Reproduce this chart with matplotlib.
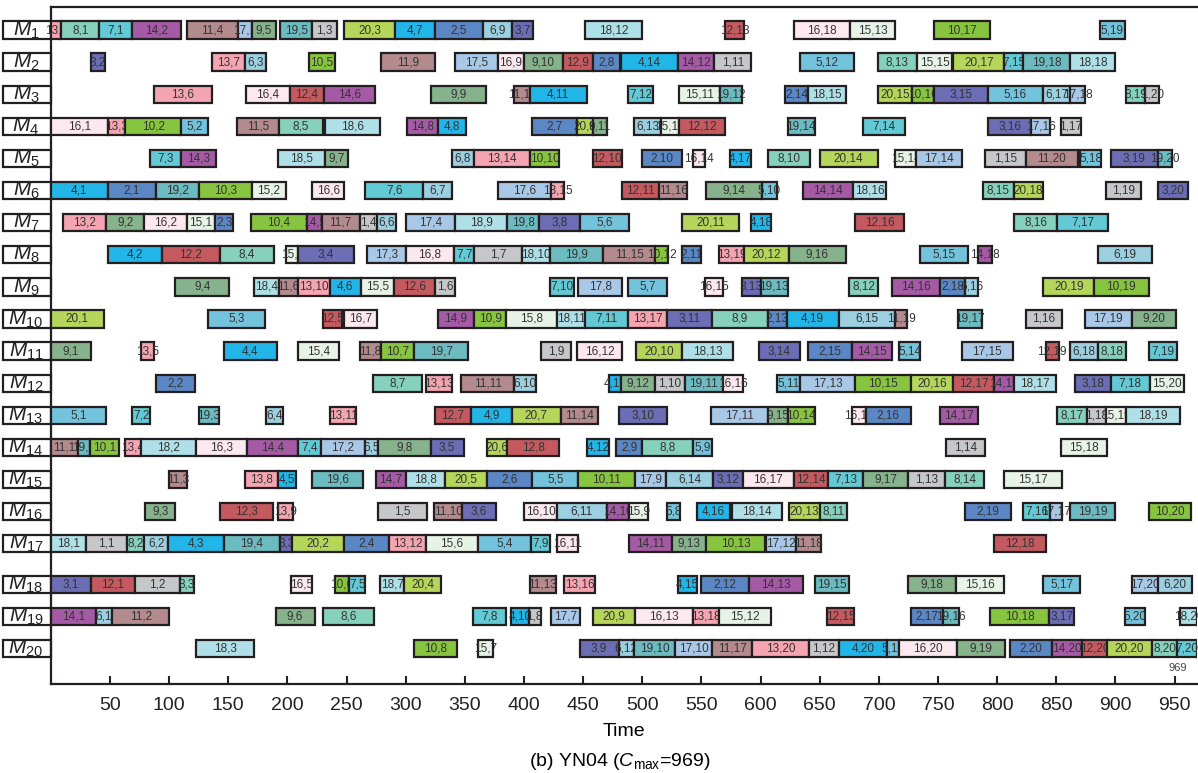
import matplotlib.pyplot as plt
from matplotlib.patches import Rectangle

plt.rcParams['font.family'] = ['Liberation Sans', 'DejaVu Sans']
plt.rcParams['mathtext.fontset'] = 'custom'
plt.rcParams['mathtext.rm'] = 'Liberation Sans'
plt.rcParams['mathtext.it'] = 'Liberation Sans:italic'

# (job, operation, start, end) per machine
m1 = [(13, 1, 0, 9), (8, 1, 9, 41), (7, 1, 41, 69), (14, 2, 69, 110), (11, 4, 115, 158), (17, 1, 158, 170),
      (9, 5, 170, 190), (19, 5, 194, 221), (1, 3, 221, 242), (20, 3, 248, 291), (4, 7, 291, 325), (2, 5, 325, 365),
      (6, 9, 365, 390), (3, 7, 390, 408), (18, 12, 452, 500), (12, 13, 570, 586), (16, 18, 628, 676),
      (15, 13, 676, 714), (10, 17, 747, 794), (5, 19, 887, 908)]
m2 = [(3, 2, 34, 46), (13, 7, 136, 164), (6, 3, 164, 182), (10, 5, 218, 240), (11, 9, 279, 325), (17, 5, 342, 378),
      (16, 9, 378, 400), (9, 10, 400, 433), (12, 9, 433, 458), (2, 8, 458, 481), (4, 14, 482, 530),
      (14, 12, 530, 561), (1, 11, 561, 592), (5, 12, 633, 679), (8, 13, 699, 732), (15, 15, 732, 762),
      (20, 17, 763, 806), (7, 15, 806, 822), (19, 18, 822, 862), (18, 18, 862, 900)]
m3 = [(13, 6, 87, 136), (16, 4, 165, 202), (12, 4, 202, 231), (14, 6, 231, 274), (9, 9, 321, 368),
      (11, 12, 392, 405), (4, 11, 405, 453), (7, 12, 488, 509), (15, 11, 531, 566), (19, 12, 566, 584),
      (2, 14, 621, 640), (18, 15, 640, 672), (20, 15, 699, 728), (10, 16, 728, 747), (3, 15, 747, 792),
      (5, 16, 792, 839), (6, 17, 839, 862), (17, 18, 862, 874), (8, 19, 909, 925), (1, 20, 925, 937)]
m4 = [(16, 1, 0, 48), (13, 3, 48, 63), (10, 2, 63, 110), (5, 2, 110, 133), (11, 5, 157, 193), (8, 5, 193, 230),
      (18, 6, 232, 278), (14, 8, 301, 327), (4, 8, 327, 351), (2, 7, 407, 445), (20, 8, 445, 458),
      (9, 11, 458, 470), (6, 13, 493, 516), (15, 10, 516, 531), (12, 12, 531, 570), (19, 14, 623, 646),
      (7, 14, 687, 722), (3, 16, 792, 829), (17, 16, 829, 845), (1, 17, 854, 871)]
m5 = [(7, 3, 84, 110), (14, 3, 110, 140), (18, 5, 192, 232), (9, 7, 232, 251), (6, 8, 339, 358),
      (13, 14, 358, 405), (10, 10, 405, 430), (12, 10, 458, 483), (2, 10, 500, 534), (16, 14, 543, 553),
      (4, 17, 574, 592), (8, 10, 606, 642), (20, 14, 650, 699), (15, 14, 714, 731), (17, 14, 731, 770),
      (1, 15, 790, 824), (11, 20, 824, 868), (5, 18, 870, 888), (3, 19, 896, 936), (19, 20, 936, 948)]
m6 = [(4, 1, 0, 48), (2, 1, 48, 89), (19, 2, 89, 125), (10, 3, 125, 170), (15, 2, 170, 199), (16, 6, 221, 248),
      (7, 6, 266, 315), (6, 7, 315, 339), (17, 6, 378, 423), (13, 15, 423, 434), (12, 11, 483, 514),
      (11, 16, 514, 538), (9, 14, 554, 601), (5, 10, 601, 614), (14, 14, 636, 678), (18, 16, 678, 706),
      (8, 15, 788, 814), (20, 18, 814, 839), (1, 19, 892, 922), (3, 20, 936, 961)]
m7 = [(13, 2, 10, 47), (9, 2, 47, 79), (16, 2, 79, 115), (15, 1, 115, 139), (2, 3, 139, 154), (10, 4, 169, 217),
      (14, 5, 217, 229), (11, 7, 229, 261), (1, 4, 261, 276), (6, 6, 276, 292), (17, 4, 300, 342),
      (18, 9, 342, 386), (19, 8, 386, 413), (3, 8, 413, 447), (5, 6, 447, 489), (20, 11, 534, 582),
      (4, 18, 592, 609), (12, 16, 680, 721), (8, 16, 814, 851), (7, 17, 851, 894)]
m8 = [(4, 2, 48, 94), (12, 2, 94, 143), (8, 4, 143, 189), (15, 3, 199, 209), (3, 4, 209, 256), (17, 3, 267, 300),
      (16, 8, 300, 341), (7, 7, 341, 358), (1, 7, 358, 398), (18, 10, 398, 422), (19, 9, 422, 467),
      (11, 15, 467, 511), (10, 12, 511, 522), (2, 11, 534, 550), (13, 19, 565, 586), (20, 12, 586, 624),
      (9, 16, 624, 672), (5, 15, 735, 775), (14, 18, 784, 796), (6, 19, 885, 931)]
m9 = [(9, 4, 105, 151), (18, 4, 172, 193), (11, 6, 193, 209), (13, 10, 209, 236), (4, 6, 236, 262),
      (15, 5, 262, 290), (12, 6, 290, 325), (1, 6, 325, 342), (7, 10, 422, 442), (17, 8, 446, 483),
      (5, 7, 488, 521), (16, 15, 553, 568), (3, 13, 584, 600), (19, 13, 600, 623), (8, 12, 675, 699),
      (14, 16, 711, 752), (2, 18, 752, 773), (6, 16, 773, 784), (20, 19, 839, 882), (10, 19, 882, 928)]
m10 = [(20, 1, 0, 45), (5, 3, 133, 181), (12, 5, 230, 246), (16, 7, 248, 276), (14, 9, 327, 358),
       (10, 9, 358, 385), (15, 8, 385, 428), (18, 11, 428, 452), (7, 11, 452, 488), (13, 17, 488, 521),
       (3, 11, 521, 559), (8, 9, 559, 606), (2, 13, 606, 622), (4, 19, 622, 666), (6, 15, 666, 714),
       (11, 19, 714, 724), (19, 17, 767, 787), (1, 16, 824, 855), (17, 19, 874, 914), (9, 20, 914, 951)]
m11 = [(9, 1, 0, 34), (13, 5, 76, 87), (4, 4, 146, 191), (15, 4, 209, 244), (11, 8, 261, 279), (10, 7, 279, 307),
       (19, 7, 307, 353), (1, 9, 414, 440), (16, 12, 445, 483), (20, 10, 495, 534), (18, 13, 534, 577),
       (3, 14, 599, 633), (2, 15, 640, 677), (14, 15, 677, 711), (5, 14, 717, 735), (17, 15, 770, 813),
       (12, 19, 841, 852), (6, 18, 862, 885), (8, 18, 885, 909), (7, 19, 928, 952)]
m12 = [(2, 2, 89, 122), (8, 7, 272, 314), (13, 13, 317, 339), (11, 11, 347, 392), (6, 10, 392, 410),
       (4, 13, 472, 482), (9, 12, 482, 511), (1, 10, 511, 536), (19, 11, 536, 568), (16, 16, 568, 585),
       (5, 11, 614, 633), (17, 13, 633, 680), (10, 15, 680, 727), (20, 16, 727, 763), (12, 17, 763, 797),
       (14, 19, 797, 814), (18, 17, 814, 850), (3, 18, 866, 896), (7, 18, 896, 929), (15, 20, 929, 958)]
m13 = [(5, 1, 0, 47), (7, 2, 69, 84), (19, 3, 125, 142), (6, 4, 182, 196), (13, 11, 236, 258), (12, 7, 325, 355),
       (4, 9, 355, 390), (20, 7, 390, 431), (11, 14, 431, 463), (3, 10, 480, 521), (17, 11, 558, 606),
       (9, 15, 606, 623), (10, 14, 623, 646), (16, 19, 677, 689), (2, 16, 689, 727), (14, 17, 752, 784),
       (8, 17, 851, 876), (1, 18, 876, 892), (15, 19, 892, 909), (18, 19, 909, 955)]
m14 = [(11, 1, 0, 23), (19, 1, 23, 33), (10, 1, 33, 58), (13, 4, 63, 76), (18, 2, 76, 123), (16, 3, 123, 166),
       (14, 4, 166, 209), (7, 4, 209, 228), (17, 2, 228, 266), (6, 5, 266, 277), (9, 8, 277, 321),
       (3, 5, 321, 349), (20, 6, 369, 386), (12, 8, 386, 430), (4, 12, 453, 472), (2, 9, 478, 500),
       (8, 8, 500, 543), (5, 9, 543, 559), (1, 14, 757, 790), (15, 18, 854, 893)]
m15 = [(11, 3, 100, 115), (13, 8, 164, 192), (4, 5, 192, 207), (19, 6, 221, 264), (14, 7, 275, 300),
       (18, 8, 300, 333), (20, 5, 333, 369), (2, 6, 369, 407), (5, 5, 407, 446), (10, 11, 446, 494),
       (17, 9, 494, 520), (6, 14, 520, 560), (3, 12, 560, 585), (16, 17, 585, 628), (12, 14, 628, 657),
       (7, 13, 657, 687), (9, 17, 687, 725), (1, 13, 725, 756), (8, 14, 756, 789), (15, 17, 806, 855)]
m16 = [(9, 3, 80, 105), (12, 3, 143, 188), (13, 9, 192, 205), (1, 5, 277, 318), (11, 10, 324, 348),
       (3, 6, 348, 376), (16, 10, 400, 428), (6, 11, 428, 470), (14, 10, 470, 489), (15, 9, 489, 505),
       (5, 8, 521, 532), (4, 16, 546, 574), (18, 14, 576, 618), (20, 13, 624, 650), (8, 11, 650, 673),
       (2, 19, 773, 812), (7, 16, 822, 845), (17, 17, 845, 855), (19, 19, 862, 900), (10, 20, 928, 964)]
m17 = [(18, 1, 0, 30), (1, 1, 30, 64), (8, 2, 64, 79), (6, 2, 79, 99), (4, 3, 99, 146), (19, 4, 146, 194),
       (3, 3, 194, 204), (20, 2, 204, 248), (2, 4, 248, 286), (13, 12, 286, 317), (15, 6, 317, 361),
       (5, 4, 361, 406), (7, 9, 406, 422), (16, 11, 428, 446), (14, 11, 489, 525), (9, 13, 525, 554),
       (10, 13, 554, 604), (17, 12, 605, 630), (11, 18, 630, 651), (12, 18, 797, 841)]
m18 = [(3, 1, 0, 34), (12, 1, 34, 71), (1, 2, 71, 109), (8, 3, 109, 121), (16, 5, 203, 221), (10, 6, 240, 252),
       (7, 5, 252, 266), (18, 7, 278, 299), (20, 4, 299, 330), (11, 13, 405, 427), (13, 16, 434, 460),
       (4, 15, 530, 546), (2, 12, 550, 590), (14, 13, 590, 636), (19, 15, 646, 675), (9, 18, 725, 765),
       (15, 16, 765, 806), (5, 17, 839, 870), (17, 20, 914, 936), (6, 20, 936, 965)]
m19 = [(14, 1, 0, 38), (6, 1, 38, 52), (11, 2, 52, 100), (9, 6, 190, 223), (8, 6, 230, 273), (7, 8, 357, 385),
       (4, 10, 389, 404), (1, 8, 404, 414), (17, 7, 423, 447), (20, 9, 458, 494), (16, 13, 494, 543),
       (13, 18, 543, 565), (15, 12, 565, 609), (12, 15, 656, 679), (2, 17, 727, 754), (19, 16, 754, 768),
       (10, 18, 794, 844), (3, 17, 844, 865), (5, 20, 908, 925), (18, 20, 955, 969)]
m20 = [(18, 3, 123, 172), (10, 8, 307, 343), (15, 7, 361, 374), (3, 9, 447, 480), (6, 12, 480, 493),
       (19, 10, 493, 528), (17, 10, 528, 559), (11, 17, 559, 593), (13, 20, 593, 641), (1, 12, 641, 666),
       (4, 20, 666, 707), (5, 13, 707, 717), (16, 20, 717, 766), (9, 19, 766, 807), (2, 20, 811, 846),
       (14, 20, 846, 872), (12, 20, 872, 893), (20, 20, 893, 931), (8, 20, 931, 952), (7, 20, 952, 969)]

machines = [m1, m2, m3, m4, m5, m6, m7, m8, m9, m10,
            m11, m12, m13, m14, m15, m16, m17, m18, m19, m20]
cmax = 969
xticks = list(range(50, 951, 50))

# cor de cada job (1..20)
job_colors = {
    1: '#c6c7c9', 2: '#5b87c5', 3: '#6b6db5', 4: '#21b5e8', 5: '#74c3dc',
    6: '#9ccfdf', 7: '#63c9d4', 8: '#86d1bb', 9: '#86b38c', 10: '#87c43f',
    11: '#b38a8e', 12: '#c45a60', 13: '#f5a5b1', 14: '#a45aa5', 15: '#e8f3e7',
    16: '#fce8ef', 17: '#a9c8e7', 18: '#b0e0e7', 19: '#6cbbc1', 20: '#b5d55b',
}

edge = '#231f20'
bar_h = 0.54

fig = plt.figure(figsize=(11.98, 7.73), dpi=100)
ax = fig.add_axes([0.0424, 0.1151, 0.9568, 0.8762])

for i, ops in enumerate(machines):
    # as 3 ultimas maquinas ficam um pouco mais afastadas
    y = i + 1 if i < 17 else i + 1.265
    for k, (job, op, start, end) in enumerate(ops):
        z = 3 + 2 * k
        ax.barh(y, end - start, left=start, height=bar_h, color=job_colors[job],
                edgecolor=edge, linewidth=1.6, zorder=z)
        ax.text((start + end) / 2, y, f'{job},{op}', ha='center', va='center',
                fontsize=8.5, color='#333333', zorder=z + 1)
    # caixa com o nome da maquina
    ax.add_patch(Rectangle((-40, y - bar_h / 2), 40, bar_h, facecolor='white',
                           edgecolor=edge, linewidth=1.6, clip_on=False, zorder=1))
    ax.text(-21, y, f'$M_{{{i + 1}}}$', ha='center', va='center', fontsize=15,
            color='#222222', clip_on=False)

ax.text(953, 20.265 + 0.6, str(cmax), ha='center', va='center', fontsize=8, color='#444444')

ax.set_xlim(0, cmax)
ax.set_ylim(21.37, 0.274)
ax.set_xticks(xticks)
ax.set_yticks([])
ax.tick_params(axis='x', direction='in', length=6, width=1.5, labelsize=14, pad=9, colors='#222222')
ax.spines['right'].set_visible(False)
for s in ['left', 'top', 'bottom']:
    ax.spines[s].set_linewidth(1.6)
    ax.spines[s].set_color(edge)
ax.set_xlabel('Time', fontsize=14, labelpad=7)

fig.text(0.517, 0.015, r'(b) YN04 ($C_{\mathrm{max}}$=969)', ha='center', va='center', fontsize=14)

fig.savefig('out.png', dpi=100)
